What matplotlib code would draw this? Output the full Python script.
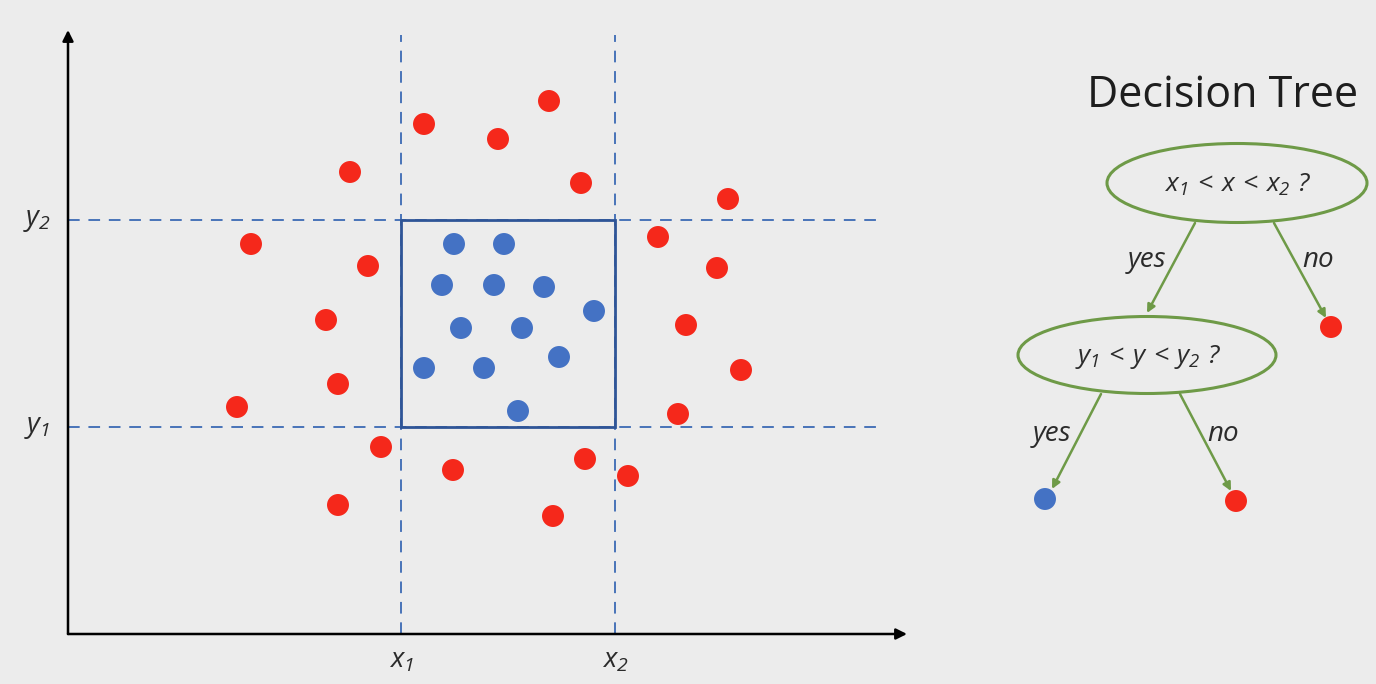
import matplotlib.pyplot as plt
from matplotlib.patches import Ellipse, Rectangle

plt.rcParams['font.family'] = ['Open Sans', 'DejaVu Sans']
plt.rcParams['mathtext.fontset'] = 'custom'
plt.rcParams['mathtext.it'] = 'Open Sans:italic'
plt.rcParams['mathtext.rm'] = 'Open Sans:italic'

# data (units: 10 px from origin of the scatter axes)
red_x = [48.1, 35.6, 43.0, 28.2, 51.3, 66.0, 18.3, 59.0, 30.0, 64.9, 25.8,
         61.8, 27.0, 67.3, 16.9, 61.0, 31.3, 38.5, 51.7, 56.0, 27.0, 48.5]
red_y = [53.3, 51.0, 49.5, 46.2, 45.1, 43.5, 39.0, 39.7, 36.8, 36.6, 31.4,
         30.9, 25.0, 26.4, 22.7, 22.0, 18.7, 16.4, 17.5, 15.8, 12.9, 11.8]
blue_x = [38.6, 43.6, 37.4, 42.6, 47.6, 52.6, 39.3, 45.4, 49.1, 35.6, 41.6, 45.0]
blue_y = [39.0, 39.0, 34.9, 34.9, 34.7, 32.3, 30.6, 30.6, 27.7, 26.6, 26.6, 22.3]
x1, x2 = 33.3, 54.7
y1, y2 = 20.7, 41.4

RED = '#f5281b'
BLUE = '#4472c4'
DASH = '#4873b8'
BOX = '#2f5597'
GREEN = '#6e9a47'
BG = '#ececec'
TXT = '#2b2b2b'

fig = plt.figure(figsize=(13.76, 6.84), dpi=100, facecolor=BG)

# scatter panel
ax = fig.add_axes([68 / 1376, 50 / 684, 840 / 1376, 604 / 684])
ax.set_xlim(0, 84)
ax.set_ylim(0, 60.4)
ax.axis('off')

ax.annotate('', xy=(83.9, 0), xytext=(0, 0),
            arrowprops=dict(arrowstyle='-|>', color='black', lw=1.8,
                            mutation_scale=16, shrinkA=0, shrinkB=0))
ax.annotate('', xy=(0, 60.4), xytext=(0, 0),
            arrowprops=dict(arrowstyle='-|>', color='black', lw=1.8,
                            mutation_scale=16, shrinkA=0, shrinkB=0))

for xv in (x1, x2):
    ax.plot([xv, xv], [0, 59.9], color=DASH, lw=1.4, dashes=(6, 4.5))
for yv in (y1, y2):
    ax.plot([0, 80.9], [yv, yv], color=DASH, lw=1.4, dashes=(6, 4.5))

ax.add_patch(Rectangle((x1, y1), x2 - x1, y2 - y1, fill=False,
                       edgecolor=BOX, lw=2.0, zorder=3))

ax.scatter(red_x, red_y, s=250, color=RED, edgecolors='none', zorder=4)
ax.scatter(blue_x, blue_y, s=250, color=BLUE, edgecolors='none', zorder=4)

lab = dict(fontsize=20, color=TXT, clip_on=False)
ax.text(x1, -2.6, r'$x_1$', ha='center', va='center', **lab)
ax.text(x2, -2.6, r'$x_2$', ha='center', va='center', **lab)
ax.text(-3.1, y1, r'$y_1$', ha='center', va='center', **lab)
ax.text(-3.1, y2, r'$y_2$', ha='center', va='center', **lab)

# decision tree panel (pixel coordinates)
tx = fig.add_axes([0, 0, 1, 1])
tx.set_xlim(0, 1376)
tx.set_ylim(684, 0)
tx.axis('off')
tx.patch.set_alpha(0)

tx.text(1223, 96, 'Decision Tree', fontsize=31, color='#1e1e1e',
        ha='center', va='center')

tx.add_patch(Ellipse((1237, 183), 260, 79, fill=False, edgecolor=GREEN, lw=2.2))
tx.add_patch(Ellipse((1147, 355), 258, 77, fill=False, edgecolor=GREEN, lw=2.2))
tx.text(1238, 185, r'$x_1\, <\, x\, <\, x_2\ ?$', fontsize=19, color=TXT,
        ha='center', va='center')
tx.text(1148, 357, r'$y_1\, <\, y\, <\, y_2\ ?$', fontsize=19, color=TXT,
        ha='center', va='center')

edges = [((1195, 223), (1147, 313)), ((1274, 223), (1326, 318)),
         ((1101, 394), (1052, 489)), ((1180, 394), (1231, 491))]
for start, end in edges:
    tx.annotate('', xy=end, xytext=start,
                arrowprops=dict(arrowstyle='-|>', color=GREEN, lw=1.8,
                                mutation_scale=12, shrinkA=0, shrinkB=0))

tree_lab = dict(fontsize=20, style='italic', color=TXT, va='center')
tx.text(1166, 260, 'yes', ha='right', **tree_lab)
tx.text(1302, 260, 'no', ha='left', **tree_lab)
tx.text(1071, 434, 'yes', ha='right', **tree_lab)
tx.text(1207, 434, 'no', ha='left', **tree_lab)

tx.scatter([1331, 1236], [327, 501], s=250, color=RED, edgecolors='none')
tx.scatter([1045], [499], s=250, color=BLUE, edgecolors='none')

fig.savefig('out.png', dpi=100, facecolor=BG)
